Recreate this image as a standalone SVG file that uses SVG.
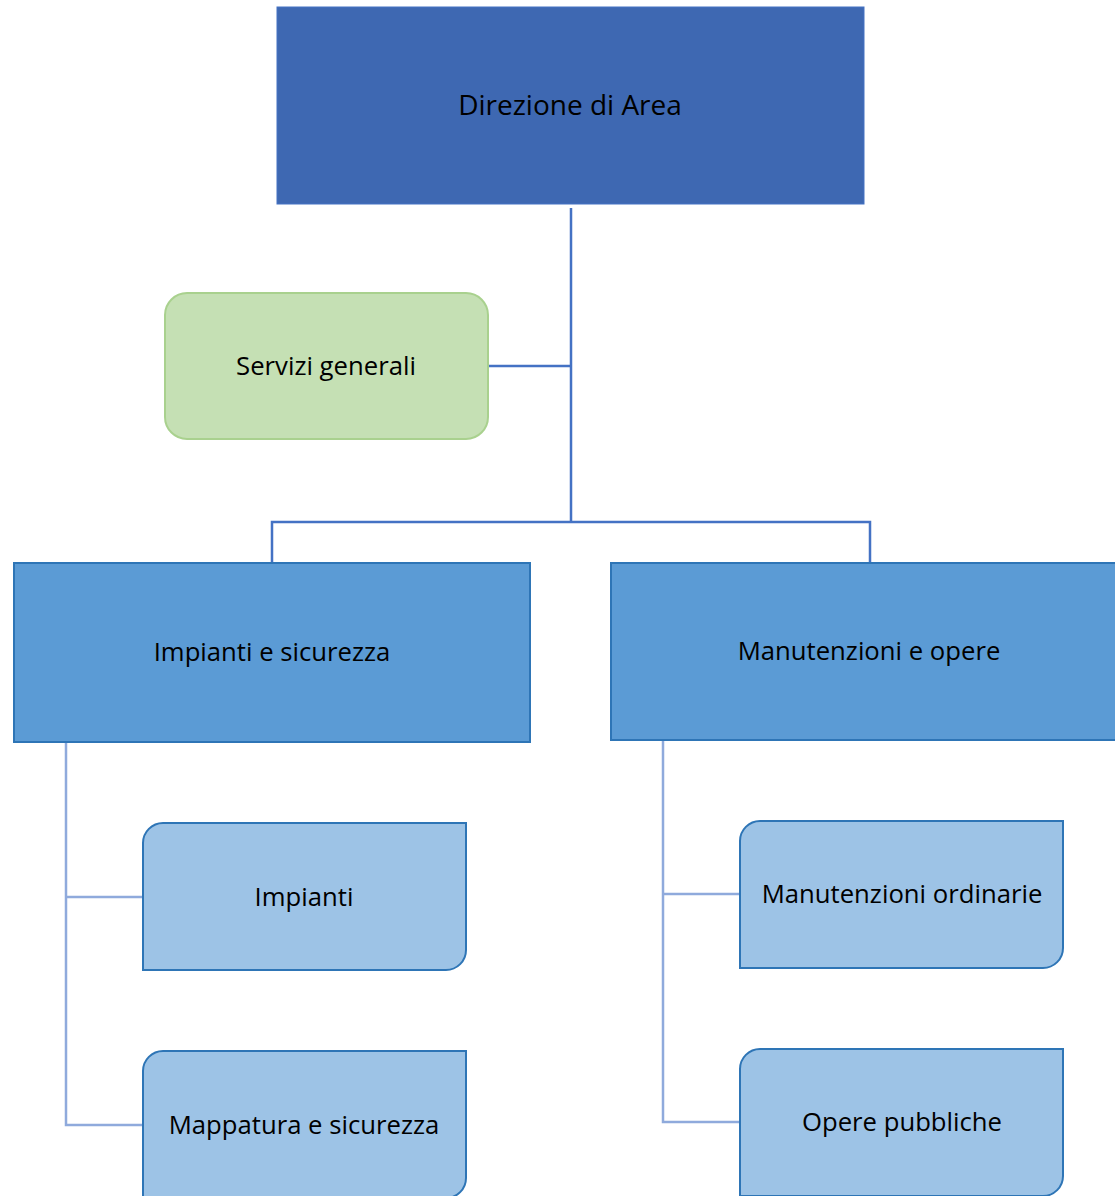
<svg xmlns="http://www.w3.org/2000/svg" width="1115" height="1196" viewBox="0 0 1115 1196">
<style>
text{font-family:"Open Sans","Noto Sans","DejaVu Sans",sans-serif;font-size:25.7px;fill:#000;text-anchor:middle;dominant-baseline:central}
text.big{font-size:28px}
.top{fill:#3E68B2;stroke:#4472C4;stroke-width:1}
.mid{fill:#5B9BD5;stroke:#2E75B6;stroke-width:2}
.leaf{fill:#9DC3E6;stroke:#2E75B6;stroke-width:2}
.green{fill:#C5E0B4;stroke:#A9D18E;stroke-width:2}
.c1{fill:none;stroke:#4472C4;stroke-width:2.5}
.c2{fill:none;stroke:#8FAADC;stroke-width:2.5}
</style>
<g id="connectors">
<path class="c1" d="M571,208 V522 M489,366 H571 M272,563 V522 H870 V563"/>
<path class="c2" d="M66,742 V1125 H143 M66,897 H143"/>
<path class="c2" d="M663,740 V1122 H740 M663,894 H740"/>
</g>
<g id="direzione">
<rect class="top" x="277" y="7" width="587" height="197"/>
<text class="big" x="570" y="104">Direzione di Area</text>
</g>
<g id="servizi">
<rect class="green" x="165" y="293" width="323" height="146" rx="22"/>
<text x="326" y="365">Servizi generali</text>
</g>
<g id="impianti-sicurezza">
<rect class="mid" x="14" y="563" width="516" height="179"/>
<text x="272" y="651">Impianti e sicurezza</text>
</g>
<g id="manutenzioni-opere">
<rect class="mid" x="611" y="563" width="510" height="177"/>
<text x="869" y="650">Manutenzioni e opere</text>
</g>
<g id="impianti">
<path class="leaf" d="M163,823 H466 V950 A20,20 0 0 1 446,970 H143 V843 A20,20 0 0 1 163,823 Z"/>
<text x="304" y="896">Impianti</text>
</g>
<g id="mappatura">
<path class="leaf" d="M163,1051 H466 V1178 A20,20 0 0 1 446,1198 H143 V1071 A20,20 0 0 1 163,1051 Z"/>
<text x="304" y="1124">Mappatura e sicurezza</text>
</g>
<g id="manutenzioni-ordinarie">
<path class="leaf" d="M760,821 H1063 V948 A20,20 0 0 1 1043,968 H740 V841 A20,20 0 0 1 760,821 Z"/>
<text x="902" y="893">Manutenzioni ordinarie</text>
</g>
<g id="opere-pubbliche">
<path class="leaf" d="M760,1049 H1063 V1176 A20,20 0 0 1 1043,1196 H740 V1069 A20,20 0 0 1 760,1049 Z"/>
<text x="902" y="1121">Opere pubbliche</text>
</g>
</svg>
